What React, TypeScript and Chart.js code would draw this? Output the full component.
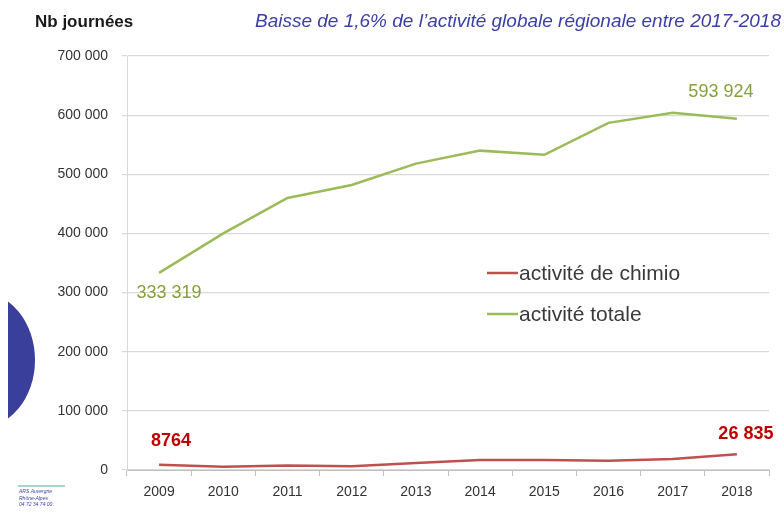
import React, { useEffect, useRef } from "react";
import { Chart, registerables } from "chart.js";

Chart.register(...registerables);

const years = ["2009", "2010", "2011", "2012", "2013", "2014", "2015", "2016", "2017", "2018"];
const chimio = [8764, 5500, 7800, 6500, 12000, 17000, 17000, 15500, 18500, 26835];
const totale = [333319, 400000, 460000, 482000, 518000, 540000, 533000, 587000, 604000, 593924];
const chimioLabels = ["8764", "", "", "", "", "", "", "", "", "26 835"];
const totaleLabels = ["333 319", "", "", "", "", "", "", "", "", "593 924"];
const yTicks = [0, 100000, 200000, 300000, 400000, 500000, 600000, 700000];
const seriesNames = ["activité de chimio", "activité totale"];
const yTitle = "Nb journées";
const subtitle = "Baisse de 1,6% de l’activité globale régionale entre 2017-2018";
const logoLines = ["ARS Auvergne", "Rhône-Alpes", "04 72 34 74 00"];

const RED = "#C0504D";
const GREEN = "#9BBB59";
const FONT = "'Liberation Sans', Arial, sans-serif";

const fmt = (v: number) => {
  const s = Math.round(v).toString();
  return s.replace(/\B(?=(\d{3})+(?!\d))/g, " ");
};

const decorPlugin = {
  id: "decor",
  beforeDraw(chart: any) {
    const ctx = chart.ctx;
    ctx.save();
    ctx.beginPath();
    ctx.rect(8, 0, 100, 514);
    ctx.clip();
    ctx.fillStyle = "#3B3F9C";
    ctx.beginPath();
    ctx.ellipse(-20, 360, 55, 68, 0, 0, Math.PI * 2);
    ctx.fill();
    ctx.restore();
  },
  afterDraw(chart: any) {
    const ctx = chart.ctx;
    const xs = chart.scales.x;
    const ys = chart.scales.y;
    ctx.save();
    // titles
    ctx.textBaseline = "middle";
    ctx.textAlign = "left";
    ctx.fillStyle = "#1a1a1a";
    ctx.font = `bold 17px ${FONT}`;
    ctx.fillText(yTitle, 35, 22);
    ctx.fillStyle = "#3B3FA8";
    ctx.font = `italic 19px ${FONT}`;
    ctx.textAlign = "right";
    ctx.fillText(subtitle, 781, 22);

    // legend
    const legend = [
      { name: seriesNames[0], color: RED, y: 273 },
      { name: seriesNames[1], color: GREEN, y: 314 },
    ];
    ctx.textAlign = "left";
    ctx.font = `21px ${FONT}`;
    for (const l of legend) {
      ctx.strokeStyle = l.color;
      ctx.lineWidth = 2.5;
      ctx.beginPath();
      ctx.moveTo(487, l.y);
      ctx.lineTo(518, l.y);
      ctx.stroke();
      ctx.fillStyle = "#3a3a3a";
      ctx.fillText(l.name, 519, l.y + 1);
    }

    // data labels
    ctx.textAlign = "center";
    totaleLabels.forEach((t, i) => {
      if (!t) return;
      const px = xs.getPixelForValue(i);
      const py = ys.getPixelForValue(totale[i]);
      ctx.fillStyle = "#86A03A";
      ctx.font = `18px ${FONT}`;
      if (i === 0) ctx.fillText(t, px + 10, py + 20);
      else ctx.fillText(t, px - 16, py - 27);
    });
    chimioLabels.forEach((t, i) => {
      if (!t) return;
      const px = xs.getPixelForValue(i);
      const py = ys.getPixelForValue(chimio[i]);
      ctx.fillStyle = "#C00000";
      ctx.font = `bold 18px ${FONT}`;
      if (i === 0) ctx.fillText(t, px + 12, py - 24);
      else ctx.fillText(t, px + 9, py - 20);
    });

    // logo
    ctx.strokeStyle = "#8CC4C8";
    ctx.lineWidth = 1.5;
    ctx.beginPath();
    ctx.moveTo(18, 486);
    ctx.lineTo(65, 486);
    ctx.stroke();
    ctx.fillStyle = "#3B3FA8";
    ctx.font = `italic 5px ${FONT}`;
    ctx.textAlign = "left";
    logoLines.forEach((t, i) => ctx.fillText(t, 19, 492 + i * 6.5));
    ctx.restore();
  },
};

export default function App() {
  const ref = useRef<HTMLCanvasElement | null>(null);
  useEffect(() => {
    document.body.style.margin = "0";
    document.body.style.overflow = "hidden";
    if (!ref.current) return;
    const chart = new Chart(ref.current, {
      type: "line",
      data: {
        labels: years,
        datasets: [
          {
            label: seriesNames[0],
            data: chimio,
            borderColor: RED,
            backgroundColor: RED,
            borderWidth: 2.5,
            pointRadius: 0,
            tension: 0,
          },
          {
            label: seriesNames[1],
            data: totale,
            borderColor: GREEN,
            backgroundColor: GREEN,
            borderWidth: 2.5,
            pointRadius: 0,
            tension: 0,
          },
        ],
      },
      options: {
        responsive: false,
        animation: false,
        devicePixelRatio: 1,
        layout: { padding: { top: 56, right: 15, left: 0, bottom: 0 } },
        plugins: { legend: { display: false }, tooltip: { enabled: false }, title: { display: false } },
        scales: {
          x: {
            type: "category",
            offset: true,
            grid: {
              display: true,
              drawOnChartArea: false,
              drawTicks: true,
              tickLength: 6,
              color: "#BFBFBF",
              offset: true,
            },
            border: { display: true, color: "#BFBFBF", width: 1 },
            ticks: { color: "#333333", font: { family: FONT, size: 14 }, padding: 8, maxRotation: 0 },
            afterFit: (s: any) => {
              s.height = 44;
            },
          },
          y: {
            min: 0,
            max: 700000,
            afterBuildTicks: (s: any) => {
              s.ticks = yTicks.map((v) => ({ value: v }));
            },
            grid: { color: "#D9D9D9", lineWidth: 1.2, tickLength: 5 },
            border: { display: true, color: "#D9D9D9" },
            ticks: {
              color: "#333333",
              font: { family: FONT, size: 14 },
              padding: 14,
              callback: (v: any) => fmt(Number(v)),
            },
            afterFit: (s: any) => {
              s.width = 127;
            },
          },
        },
      },
      plugins: [decorPlugin],
    } as any);
    return () => chart.destroy();
  }, []);
  return (
    <div style={{ width: 784, height: 514, background: "#fff" }}>
      <canvas ref={ref} width={784} height={514} style={{ display: "block" }} />
    </div>
  );
}
